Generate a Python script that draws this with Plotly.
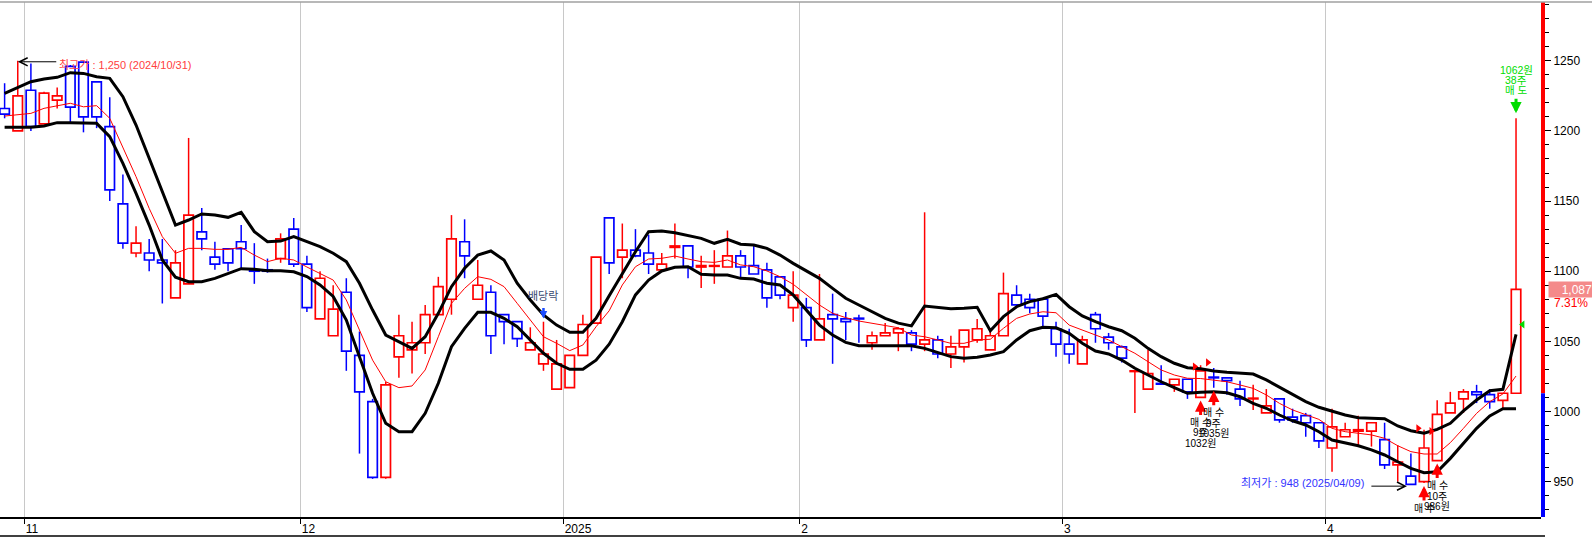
import plotly.graph_objects as go

# ---------------- data ----------------
trade_days = {
    "2024-10": [30, 31],
    "2024-11": [1, 4, 5, 6, 7, 8, 11, 12, 13, 14, 15, 18, 19, 20, 21, 22, 25, 26, 27, 28, 29],
    "2024-12": [2, 3, 4, 5, 6, 9, 10, 11, 12, 13, 16, 17, 18, 19, 20, 23, 24, 26, 27, 30],
    "2025-01": [2, 3, 6, 7, 8, 9, 10, 13, 14, 15, 16, 17, 20, 21, 22, 23, 24, 31],
    "2025-02": [3, 4, 5, 6, 7, 10, 11, 12, 13, 14, 17, 18, 19, 20, 21, 24, 25, 26, 27, 28],
    "2025-03": [4, 5, 6, 7, 10, 11, 12, 13, 14, 17, 18, 19, 20, 21, 24, 25, 26, 27, 28, 31],
    "2025-04": [1, 2, 3, 4, 7, 8, 9, 10, 11, 14, 15, 16, 17, 18, 21],
}
dates = [f"{ym}-{d:02d}" for ym, ds in trade_days.items() for d in ds]

opens = [1216, 1200, 1229, 1205, 1222, 1246, 1249, 1235, 1203, 1148, 1113, 1113, 1108, 1081, 1091, 1128,
         1110, 1116, 1121, 1101, 1101, 1109, 1130, 1105, 1066, 1054, 1085, 1040, 1007, 953, 1039, 1044,
         1049, 1069, 1080, 1121, 1080, 1085, 1069, 1064, 1044, 1034, 1016, 1017, 1040, 1063, 1138, 1110,
         1115, 1113, 1101, 1117, 1118, 1103, 1103.5, 1103, 1111, 1104, 1101, 1096, 1074, 1074, 1051, 1069,
         1066, 1066.5, 1049, 1054, 1056, 1056, 1048, 1051, 1041, 1046, 1051, 1044, 1054, 1083, 1080, 1080,
         1059, 1048, 1034, 1069, 1053, 1046, 1028.5, 1016, 1020, 1019, 1023, 1010, 1024.5, 1024, 1016, 1009,
         999, 1009, 996, 997, 992, 974, 982, 986, 986, 980, 962, 954, 950, 965, 999, 1009,
         1014, 1012, 1008, 1013]
highs = [1234, 1250, 1248, 1228, 1231, 1247, 1249, 1235, 1224, 1169, 1132, 1123, 1123, 1115, 1195, 1145,
         1121, 1116, 1133, 1120, 1109, 1127, 1138, 1111, 1100, 1090, 1095, 1057, 1009, 1021, 1069, 1064,
         1076, 1096, 1140, 1137, 1108, 1090, 1069, 1064, 1060, 1064, 1051, 1040, 1069, 1110, 1138, 1134,
         1130, 1126, 1113, 1134, 1118, 1111, 1115, 1129, 1115, 1118, 1106, 1096, 1100, 1081, 1098, 1084,
         1071, 1069, 1057, 1063, 1060, 1058, 1142, 1054, 1054, 1058, 1066, 1058, 1099, 1090, 1084, 1081,
         1064, 1059, 1054, 1071, 1056, 1047, 1029, 1044, 1033, 1023, 1023, 1033, 1031, 1024, 1022, 1019,
         1016, 1009, 1002, 999, 992, 1002, 992, 997, 992, 992, 976, 970, 987, 1008, 1014, 1016,
         1019, 1016, 1013, 1209]
lows = [1209, 1200, 1200, 1205, 1216, 1205, 1199, 1202, 1150, 1116, 1110, 1100, 1077, 1081, 1091, 1115,
        1101, 1100, 1101, 1091, 1099, 1106, 1103, 1071, 1066, 1054, 1029, 970, 952, 952, 1024, 1027,
        1041, 1069, 1069, 1095, 1080, 1041, 1048, 1046, 1044, 1029, 1016, 1017, 1040, 1063, 1098, 1095,
        1110, 1098, 1101, 1109, 1095, 1088, 1091, 1103, 1095, 1098, 1074, 1080, 1064, 1046, 1051, 1034,
        1051, 1049, 1044, 1054, 1043, 1043, 1043, 1038, 1031, 1035, 1049, 1044, 1054, 1074, 1070, 1059,
        1039, 1034, 1034, 1049, 1044, 1035, 999, 1016, 1019.5, 1014, 1009, 1010, 1017, 1012, 1004, 1001,
        999, 992, 992, 982, 974, 957, 982, 975, 975, 959, 950, 948, 949, 965, 999, 999,
        1006, 1002, 1001, 1013]
closes = [1212, 1225, 1203, 1227, 1225, 1217, 1210, 1210, 1158, 1120, 1120, 1108, 1106, 1106, 1140, 1123,
          1105, 1106, 1116, 1100, 1100, 1123, 1105, 1074, 1095, 1073, 1043, 1014, 953, 1019, 1054, 1049,
          1069, 1089, 1123, 1111, 1090, 1054, 1064, 1052, 1049, 1041, 1034, 1040, 1062, 1110, 1106, 1115,
          1111, 1105, 1105, 1118, 1103, 1104, 1104, 1111, 1103, 1098, 1081, 1083, 1083, 1051, 1066, 1066,
          1064, 1066, 1054, 1056, 1059, 1048, 1051, 1041, 1046, 1058, 1059, 1054, 1084, 1076, 1074, 1068,
          1048, 1041, 1051, 1059, 1049, 1038, 1029, 1027, 1019.5, 1023, 1014, 1029, 1024, 1022, 1009, 1009.5,
          1004, 994, 994, 992, 979, 989, 987, 987, 992, 962, 964, 948, 974, 998, 1006, 1014,
          1012, 1007, 1013, 1087]

band_upper = [1226.8, 1230.8, 1235.1, 1237.0, 1238.2, 1241.5, 1241.0, 1238.6, 1237.5, 1224.4, 1204.2, 1180.5,
              1156.7, 1132.9, 1136.5, 1140.8, 1140.1, 1138.4, 1142.0, 1128.2, 1121.0, 1121.5, 1124.6, 1121.0,
              1117.5, 1112.8, 1106.8, 1091.4, 1072.3, 1054.5, 1049.8, 1045.0, 1053.3, 1070.0, 1089.0, 1102.1,
              1111.5, 1114.4, 1108.0, 1091.4, 1079.5, 1068.8, 1061.6, 1056.5, 1056.5, 1066.4, 1082.5, 1098.5,
              1113.9, 1128.2, 1128.7, 1127.4, 1125.3, 1123.4, 1119.9, 1122.7, 1119.2, 1118.7, 1116.3, 1111.5,
              1105.6, 1100.2, 1094.9, 1087.8, 1080.7, 1075.9, 1071.1, 1066.4, 1063.0, 1061.0, 1075.2, 1074.3,
              1073.3, 1073.6, 1074.3, 1057.6, 1067.6, 1074.7, 1078.3, 1080.4, 1083.5, 1074.7, 1068.1, 1064.0,
              1060.4, 1057.6, 1052.2, 1045.0, 1039.1, 1034.4, 1031.2, 1030.5, 1028.9, 1027.9, 1027.2, 1026.7,
              1022.5, 1017.3, 1011.8, 1007.0, 1003.0, 1000.4, 997.5, 995.6, 995.2, 994.9, 989.7, 986.3,
              984.5, 987.3, 991.6, 1000.4, 1008.2, 1014.8, 1015.8, 1055.0]
band_lower = [1202.6, 1202.6, 1202.6, 1203.5, 1205.9, 1205.9, 1205.9, 1205.4, 1195.9, 1176.9, 1155.5, 1132.9,
              1108.0, 1095.7, 1092.5, 1092.5, 1094.9, 1098.5, 1101.8, 1101.4, 1100.4, 1100.4, 1099.6, 1096.2,
              1090.2, 1082.0, 1065.2, 1039.1, 1013.0, 991.6, 985.6, 985.6, 998.7, 1020.1, 1046.2, 1059.3,
              1070.7, 1070.7, 1066.4, 1060.4, 1051.0, 1041.5, 1034.4, 1030.1, 1030.1, 1036.6, 1048.0, 1064.0,
              1083.1, 1093.7, 1100.2, 1102.8, 1103.2, 1097.8, 1097.3, 1097.3, 1094.9, 1094.4, 1091.4, 1090.2,
              1083.1, 1072.3, 1061.6, 1054.5, 1049.3, 1046.9, 1046.9, 1046.9, 1047.4, 1046.9, 1045.0, 1042.0,
              1039.1, 1037.9, 1038.6, 1040.3, 1042.6, 1051.0, 1057.6, 1060.0, 1059.7, 1055.7, 1048.6, 1043.1,
              1041.0, 1036.7, 1030.8, 1026.0, 1021.2, 1017.0, 1013.0, 1013.7, 1014.1, 1013.4, 1010.5, 1005.8,
              1002.3, 997.5, 993.4, 990.4, 985.6, 979.7, 977.8, 975.6, 972.6, 969.0, 964.2, 959.5,
              956.4, 957.1, 966.6, 977.3, 988.0, 996.8, 1002.0, 1002.0]
band_mid = [1210.6, 1211.3, 1212.5, 1216.1, 1217.7, 1219.7, 1217.2, 1218.0, 1209.0, 1188.8, 1167.4, 1144.8,
            1124.6, 1112.8, 1116.3, 1116.3, 1115.6, 1115.6, 1117.0, 1111.5, 1106.8, 1109.2, 1108.0, 1103.0,
            1098.5, 1093.7, 1079.5, 1058.1, 1036.6, 1021.2, 1017.0, 1018.2, 1029.6, 1053.3, 1077.1, 1087.8,
            1096.1, 1094.2, 1089.0, 1077.1, 1065.2, 1053.3, 1048.6, 1043.4, 1047.4, 1060.4, 1071.8, 1090.2,
            1103.2, 1108.7, 1109.2, 1110.8, 1108.7, 1106.8, 1106.3, 1108.0, 1104.5, 1103.2, 1100.2, 1096.1,
            1090.7, 1083.1, 1075.9, 1070.0, 1066.9, 1064.5, 1062.9, 1061.6, 1059.7, 1054.5, 1053.3, 1051.0,
            1048.6, 1048.6, 1051.0, 1051.5, 1059.3, 1066.4, 1069.5, 1071.1, 1070.4, 1061.6, 1058.1, 1054.5,
            1051.0, 1046.2, 1041.5, 1035.5, 1029.6, 1026.0, 1023.7, 1023.5, 1022.5, 1021.2, 1018.9, 1016.5,
            1011.8, 1005.8, 1001.1, 997.5, 994.4, 988.0, 985.6, 984.5, 983.3, 980.9, 975.6, 971.4,
            969.7, 969.7, 977.8, 988.0, 998.7, 1007.0, 1012.5, 1025.3]

y_ticks = [950, 1000, 1050, 1100, 1150, 1200, 1250]

high_label = "최고가 : 1,250 (2024/10/31)"
low_label = "최저가 : 948 (2025/04/09)"
high_date = "2024-10-31"
low_date = "2025-04-09"
exdiv_date = "2024-12-27"
exdiv_label = "배당락"

buy_dates = ["2025-03-18", "2025-03-19", "2025-04-10", "2025-04-11"]
buy_prices = [1032, 1035, 988, 986]
buy_qty = [9, 9, 10, 10]
sell_dates = ["2025-04-21"]
sell_prices = [1062]
sell_qty = [38]

# ---------------- style / geometry ----------------
W, H = 1592, 537
ML, MR, MT, MB = 0, 51, 2, 20
PW, PH = W - ML - MR, H - MT - MB
X_RANGE = [-0.351, 116.9]
Y_RANGE = [924.8, 1291.9]
RED, BLUE, GREEN = "#ff0000", "#0000ff", "#00dd00"
FONT = "Liberation Sans, Arial, Noto Sans CJK KR, sans-serif"

x = list(range(len(dates)))
pos = {d: k for k, d in enumerate(dates)}


def ypix(v):
    return MT + (Y_RANGE[1] - v) / (Y_RANGE[1] - Y_RANGE[0]) * PH


fig = go.Figure()

# candle bodies
base = [min(o, c) for o, c in zip(opens, closes)]
hgt = [abs(c - o) for o, c in zip(opens, closes)]
cols = [RED if c >= o else BLUE for o, c in zip(opens, closes)]
fig.add_trace(go.Bar(x=x, y=hgt, base=base, width=0.72,
                     marker=dict(color="white", line=dict(color=cols, width=1.7)),
                     hoverinfo="skip"))


def wicks(up):
    xs, ys = [], []
    for k, (o, h, l, c) in enumerate(zip(opens, highs, lows, closes)):
        if (c >= o) != up:
            continue
        top, bot = max(o, c), min(o, c)
        if h > top:
            xs += [k, k, None]
            ys += [top, h, None]
        if l < bot:
            xs += [k, k, None]
            ys += [l, bot, None]
    return xs, ys


for up, col in [(True, RED), (False, BLUE)]:
    wx, wy = wicks(up)
    fig.add_trace(go.Scatter(x=wx, y=wy, mode="lines", line=dict(color=col, width=1.5),
                             hoverinfo="skip", connectgaps=False))

# bands
fig.add_trace(go.Scatter(x=x, y=band_mid, mode="lines", line=dict(color=RED, width=1)))
fig.add_trace(go.Scatter(x=x, y=band_upper, mode="lines", line=dict(color="black", width=3)))
fig.add_trace(go.Scatter(x=x, y=band_lower, mode="lines", line=dict(color="black", width=3)))

# trade markers
fig.add_trace(go.Scatter(x=[pos[d] - 0.45 for d in buy_dates], y=buy_prices, mode="markers",
                         marker=dict(symbol="triangle-right", size=7, color=RED)))
fig.add_trace(go.Scatter(x=[pos[d] + 0.5 for d in sell_dates], y=sell_prices, mode="markers",
                         marker=dict(symbol="triangle-left", size=7, color=GREEN)))

# month ticks
month_starts = [k for k in range(1, len(dates)) if dates[k][:7] != dates[k - 1][:7]]
tick_vals = [k - 0.5 for k in month_starts]
tick_text = [dates[k][:4] if dates[k][5:7] == "01" else str(int(dates[k][5:7])) for k in month_starts]

ann = []
# highest price
ph = pos[high_date]
ann.append(dict(x=ph, y=highs[ph], yshift=-1, text="", showarrow=True, ax=40, ay=0,
                arrowhead=5, arrowsize=1.6, arrowwidth=1, arrowcolor="black"))
ann.append(dict(x=ph, y=highs[ph], xanchor="left", yanchor="middle", xshift=39.5, yshift=-4.3,
                text=high_label, showarrow=False, font=dict(size=11, color="#ff4040")))
# lowest price
pl = pos[low_date]
ann.append(dict(x=pl, y=lows[pl], xshift=-4, yshift=-1.7, text="", showarrow=True, ax=-37, ay=0,
                arrowhead=5, arrowsize=1.6, arrowwidth=1, arrowcolor="black"))
ann.append(dict(x=pl, y=lows[pl], xanchor="right", yanchor="middle", xshift=-45.3, yshift=1.6,
                text=low_label, showarrow=False, font=dict(size=11, color="#3333ff")))
# ex-dividend
pe = pos[exdiv_date]
ann.append(dict(x=pe, y=highs[pe], yshift=3.3, text="", showarrow=True, ax=0, ay=-12,
                arrowhead=2, arrowsize=0.6, arrowwidth=2.5, arrowcolor="#1a4cff"))
ann.append(dict(x=pe, y=highs[pe], yshift=25.5, text=exdiv_label, showarrow=False,
                font=dict(size=11, color="#3a4a70")))

# buy signals
for d, pr, q in zip(buy_dates, buy_prices, buy_qty):
    p = pos[d]
    lo = lows[p]
    ann.append(dict(x=p, y=lo, yshift=-3, text="", showarrow=True, ax=0, ay=16,
                    arrowhead=2, arrowsize=0.75, arrowwidth=3, arrowcolor=RED))
    for j, line in enumerate(["매 수", f"{q}주", f"{pr}원"]):
        off = 3 + 16 + 6 + 10.5 * j
        if ypix(lo) + off > H - MB - 6:
            continue
        ann.append(dict(x=p, y=lo, yshift=-off, text=line, showarrow=False, yanchor="middle",
                        font=dict(size=10, color="black")))

# sell signals
for d, pr, q in zip(sell_dates, sell_prices, sell_qty):
    p = pos[d]
    hi = highs[p]
    ann.append(dict(x=p, y=hi, yshift=5, text="", showarrow=True, ax=0, ay=-16,
                    arrowhead=2, arrowsize=0.75, arrowwidth=3, arrowcolor=GREEN))
    for j, line in enumerate(["매 도", f"{q}주", f"{pr}원"]):
        ann.append(dict(x=p, y=hi, yshift=5 + 16 + 7 + 10.3 * j, text=line, showarrow=False,
                        yanchor="middle", font=dict(size=10.5, color=GREEN)))

# last price box
last, prev = closes[-1], closes[-2]
ann.append(dict(xref="paper", x=(1548 - ML) / PW, y=last, xanchor="left", yanchor="middle",
                text=f"{last:,}", showarrow=False, width=42, height=13, borderpad=1, align="right",
                bgcolor="#f48a8a", font=dict(size=12, color="white")))
ann.append(dict(xref="paper", x=(1590 - ML) / PW, y=last, xanchor="right", yanchor="middle", yshift=-13.5,
                text=f"{(last / prev - 1) * 100:.2f}%", showarrow=False, font=dict(size=12, color=RED)))

for a in ann:
    a.setdefault("xref", "x")
    a.setdefault("yref", "y")
    if a.get("showarrow"):
        a["axref"] = "pixel"
        a["ayref"] = "pixel"

split = (prev - Y_RANGE[0]) / (Y_RANGE[1] - Y_RANGE[0])
shapes = [
    dict(type="rect", xref="paper", yref="paper", x0=1.0, x1=1.0 + 4 / PW, y0=split, y1=1,
         fillcolor=RED, line=dict(width=0), layer="above"),
    dict(type="rect", xref="paper", yref="paper", x0=1.0, x1=1.0 + 4 / PW, y0=0, y1=split,
         fillcolor=BLUE, line=dict(width=0), layer="above"),
    dict(type="line", xref="paper", yref="paper", x0=0, x1=W / PW, y0=1.0, y1=1.0,
         line=dict(color="#a0a0a0", width=1.5)),
    dict(type="line", xref="paper", yref="paper", x0=0, x1=1545 / PW, y0=-(536 - (H - MB)) / PH,
         y1=-(536 - (H - MB)) / PH, line=dict(color="black", width=1.5)),
]

fig.update_layout(
    width=W, height=H, autosize=False,
    margin=dict(l=ML, r=MR, t=MT, b=MB, pad=0),
    template="none",
    paper_bgcolor="white", plot_bgcolor="white",
    showlegend=False, hovermode=False,
    font=dict(family=FONT, size=12, color="black"),
    annotations=ann, shapes=shapes,
    xaxis=dict(range=X_RANGE, tickvals=tick_vals, ticktext=tick_text, ticks="outside", ticklen=5,
               tickwidth=1, tickcolor="black", ticklabelposition="outside right",
               showgrid=True, gridcolor="#c8c8c8", gridwidth=1, zeroline=False,
               showline=True, linecolor="black", linewidth=2, tickfont=dict(size=12, color="black")),
    yaxis=dict(range=Y_RANGE, side="right", tickvals=y_ticks, ticks="outside", ticklen=9, tickwidth=1,
               tickcolor="black", minor=dict(dtick=10, tick0=0, ticks="outside", ticklen=7, tickcolor="black"),
               showgrid=False, zeroline=False, showline=False, tickfont=dict(size=12, color="black")),
)

fig.write_html("out.html", config={"displayModeBar": False, "staticPlot": True},
               post_script="document.body.style.margin='0';document.body.style.overflow='hidden';")
